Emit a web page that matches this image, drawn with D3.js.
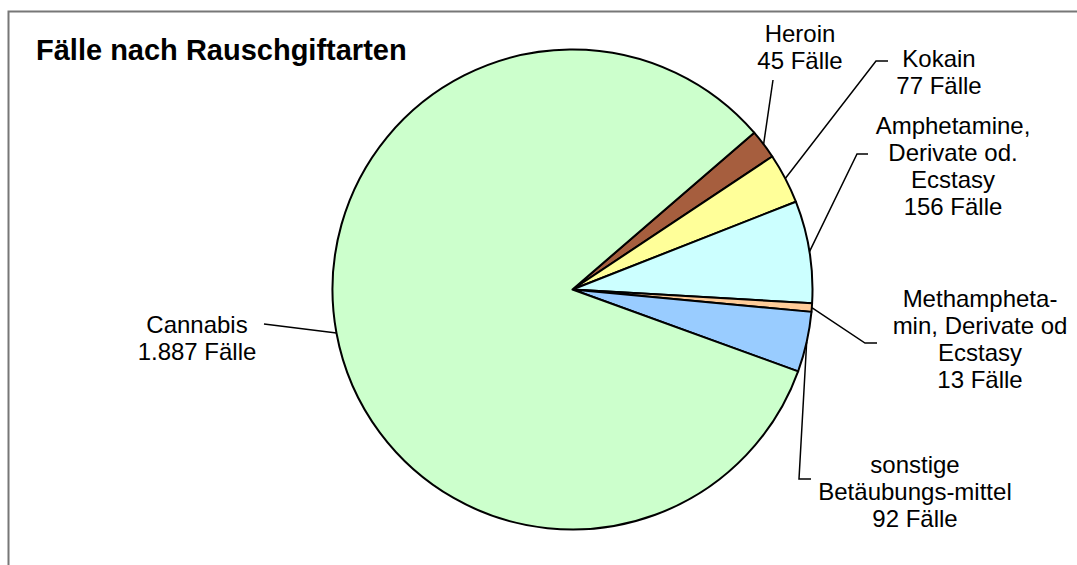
<!DOCTYPE html>
<html>
<head>
<meta charset="utf-8">
<script src="https://cdn.jsdelivr.net/npm/d3@7"></script>
<style>
  body { margin: 0; background: #fff; }
  text { font-family: "Liberation Sans", Arial, sans-serif; }
</style>
</head>
<body>
<div id="chart"></div>
<script>
// data
var categories = ["Heroin", "Kokain", "Amphetamine, Derivate od. Ecstasy",
                  "Methamphetamin, Derivate od Ecstasy", "sonstige Betäubungsmittel", "Cannabis"];
var cases = [45, 77, 156, 13, 92, 1887];
var labelLines = [
    ["Heroin", "45 Fälle"],
    ["Kokain", "77 Fälle"],
    ["Amphetamine,", "Derivate od.", "Ecstasy", "156 Fälle"],
    ["Methampheta-", "min, Derivate od", "Ecstasy", "13 Fälle"],
    ["sonstige", "Betäubungs-mittel", "92 Fälle"],
    ["Cannabis", "1.887 Fälle"]
];
var colors = ["#A65E3E", "#FFFF99", "#CCFFFF", "#FFCC99", "#99CCFF", "#CCFFCC"];

// svg area
var svgWidth = 1077;
var svgHeight = 565;
var cx = 572.5, cy = 289.5, radius = 240;

var svg = d3.select("#chart")
    .append("svg")
    .attr("width", svgWidth)
    .attr("height", svgHeight);

// chart frame (runs off the right and bottom edge)
svg.append("rect")
    .attr("x", 8.5)
    .attr("y", 11.5)
    .attr("width", 1200)
    .attr("height", 700)
    .attr("fill", "none")
    .attr("stroke", "#777")
    .attr("stroke-width", 2);

// title
svg.append("text")
    .attr("x", 36)
    .attr("y", 60)
    .style("font-size", "29px")
    .style("font-weight", "bold")
    .text("Fälle nach Rauschgiftarten");

var startDeg = 49.2;
var pie = d3.pie()
    .sort(null)
    .startAngle(startDeg * Math.PI / 180)
    .endAngle((startDeg + 360) * Math.PI / 180);

var arc = d3.arc().innerRadius(0).outerRadius(radius);

var slices = pie(cases);

var pieGroup = svg.append("g")
    .attr("transform", `translate(${cx}, ${cy})`);

pieGroup.selectAll("path")
    .data(slices)
    .enter()
    .append("path")
    .attr("d", arc)
    .attr("fill", (d, i) => colors[i])
    .attr("stroke", "#000")
    .attr("stroke-width", 2)
    .attr("stroke-linejoin", "round");

// label layout: text centre, first baseline, leader polyline points after the slice edge
var labelLayout = [
    { x: 800, y: 42, pts: [[773, 80]] },
    { x: 939, y: 67, pts: [[876, 61], [888, 61]] },
    { x: 953, y: 134, pts: [[857, 154], [868, 154]] },
    { x: 980, y: 307, pts: [[865, 343], [877, 343]] },
    { x: 915, y: 473, pts: [[799, 479], [811, 479]] },
    { x: 197, y: 333, pts: [[264, 324]] }
];
var lineGap = 27;

slices.forEach(function(d, i) {
    var mid = (d.startAngle + d.endAngle) / 2;
    var edge = [cx + radius * Math.sin(mid), cy - radius * Math.cos(mid)];
    var pts = [edge].concat(labelLayout[i].pts);
    svg.append("path")
        .attr("d", d3.line()(pts))
        .attr("fill", "none")
        .attr("stroke", "#000")
        .attr("stroke-width", 1.5);

    var t = svg.append("text")
        .attr("text-anchor", "middle")
        .style("font-size", "24px");
    labelLines[i].forEach(function(line, j) {
        t.append("tspan")
            .attr("x", labelLayout[i].x)
            .attr("y", labelLayout[i].y + j * lineGap)
            .text(line);
    });
});
</script>
</body>
</html>
